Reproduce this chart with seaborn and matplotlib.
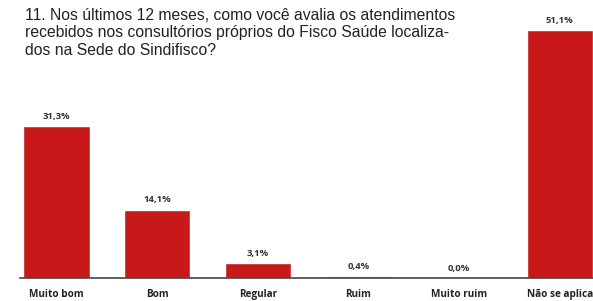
import matplotlib
matplotlib.use("Agg")
import matplotlib.pyplot as plt
import seaborn as sns
import pandas as pd

categories = ["Muito bom", "Bom", "Regular", "Ruim", "Muito ruim", "Não se aplica"]
values = [31.3, 14.1, 3.1, 0.4, 0.0, 51.1]
value_labels = ["31,3%", "14,1%", "3,1%", "0,4%", "0,0%", "51,1%"]
title = ("11. Nos últimos 12 meses, como você avalia os atendimentos\n"
         "recebidos nos consultórios próprios do Fisco Saúde localiza-\n"
         "dos na Sede do Sindifisco?")

df = pd.DataFrame({"cat": categories, "val": values})

sns.set_theme(style="white")
plt.rcParams['font.family'] = ['Liberation Sans', 'DejaVu Sans']

fig = plt.figure(figsize=(5.93, 3.01), dpi=100)
ax = fig.add_axes([20/593, 23/301, 573/593, 278/301])
sns.barplot(data=df, x="cat", y="val", color="#c8191a", saturation=1,
            width=0.66, ax=ax)
ax.set_ylim(0, 57.3)
ax.set_xlim(-0.362, 5.33)
for s in ["top", "right", "left"]:
    ax.spines[s].set_visible(False)
ax.spines["bottom"].set_color("#444444")
ax.spines["bottom"].set_linewidth(1.2)
ax.set_yticks([])
ax.set_xlabel("")
ax.set_ylabel("")
ax.tick_params(axis="x", length=0, pad=8)
for t in ax.get_xticklabels():
    t.set_fontfamily(["Open Sans", "DejaVu Sans"])
    t.set_fontweight("bold")
    t.set_fontsize(7.2)
    t.set_color("#222222")
for i, (v, lab) in enumerate(zip(values, value_labels)):
    ax.text(i, v + 1.1, lab, ha="center", va="bottom", fontsize=6.8,
            fontweight="bold", color="#333333",
            family=["Open Sans", "DejaVu Sans"], clip_on=False)

fig.text(25/593, 1 - 8/301, title, ha="left", va="top", fontsize=11.3,
         color="#222222", linespacing=1.2)

fig.savefig("out.png", dpi=100)
